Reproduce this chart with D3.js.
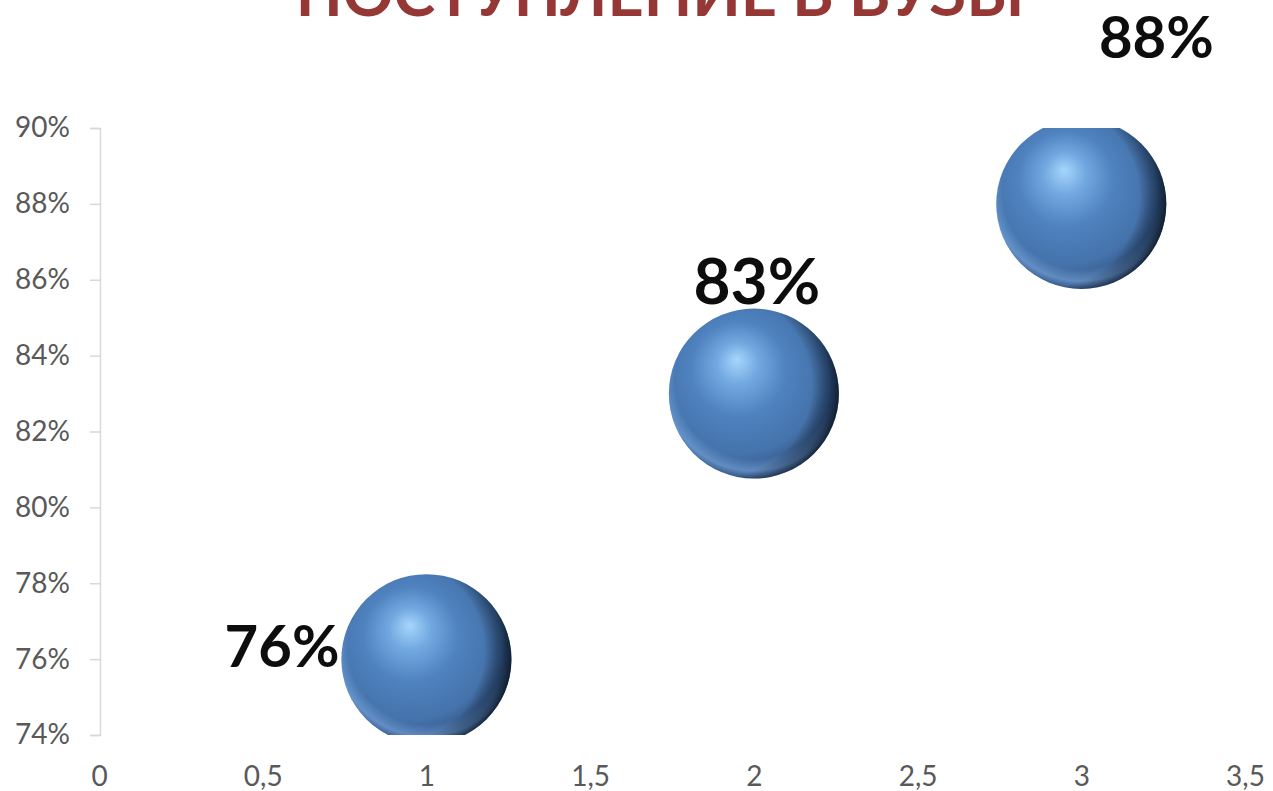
<!DOCTYPE html>
<html>
<head>
<meta charset="utf-8">
<script src="https://cdn.jsdelivr.net/npm/d3@7"></script>
<style>
  body { margin: 0; background: #fff; overflow: hidden; }
  svg { display: block; }
</style>
</head>
<body>
<svg></svg>
<script>
// data
const xValues = [1, 2, 3]
const yValues = [0.76, 0.83, 0.88]
const bubbleSizes = [1, 1, 1]
const pointLabels = ["76%", "83%", "88%"]
const xTicks = [0, 0.5, 1, 1.5, 2, 2.5, 3, 3.5]
const yTicks = [0.74, 0.76, 0.78, 0.80, 0.82, 0.84, 0.86, 0.88, 0.90]
const title = "ПОСТУПЛЕНИЕ В ВУЗЫ"

// label placement per point (style, not data)
const labelPlace = [
    {dx: -87, dy: 8, anchor: "end", size: 58},
    {dx: 3, dy: -90, anchor: "middle", size: 64},
    {dx: 75, dy: -146, anchor: "middle", size: 58}
]

const width = 1273
const height = 791

const svg = d3.select("svg")
    .attr("width", width)
    .attr("height", height)

const scaleX = d3.scaleLinear()
    .domain([0, 3.5])
    .range([99, 1245])

const scaleY = d3.scaleLinear()
    .domain([0.74, 0.90])
    .range([735, 128])

const scaleR = d3.scaleSqrt()
    .domain([0, d3.max(bubbleSizes)])
    .range([0, 85])

const defs = svg.append("defs")

defs.append("clipPath")
    .attr("id", "plotClip")
    .append("rect")
    .attr("x", scaleX(0))
    .attr("y", scaleY(0.90))
    .attr("width", scaleX(3.5) - scaleX(0))
    .attr("height", scaleY(0.74) - scaleY(0.90))

// sphere shading
const addStops = function(grad, stops){
    grad.selectAll("stop")
        .data(stops)
        .enter()
        .append("stop")
        .attr("offset", d => d[0])
        .attr("stop-color", d => d[1])
        .attr("stop-opacity", d => d[2])
}

addStops(defs.append("radialGradient")
    .attr("id", "ball")
    .attr("cx", 0.42).attr("cy", 0.42).attr("r", 0.62)
    .attr("fx", 0.4).attr("fy", 0.3), [
        [0, "#a6d6fc", 1],
        [0.2, "#72a8e0", 1],
        [0.45, "#4f82bf", 1],
        [0.75, "#4573ab", 1],
        [0.92, "#36598a", 1],
        [1, "#2a4669", 1]
    ])

addStops(defs.append("radialGradient")
    .attr("id", "rim")
    .attr("cx", 0.5).attr("cy", 0.42).attr("r", 0.58), [
        [0, "#86b6ee", 0],
        [0.8, "#86b6ee", 0],
        [0.92, "#86b6ee", 0.5],
        [1, "#86b6ee", 0]
    ])

addStops(defs.append("radialGradient")
    .attr("id", "shade")
    .attr("cx", 0.3).attr("cy", 0.45).attr("r", 0.75), [
        [0, "#000", 0],
        [0.72, "#000", 0],
        [0.86, "#061222", 0.45],
        [0.96, "#020810", 0.92],
        [1, "#020810", 0.95]
    ])

// title, cut by the top edge as in the source
svg.append("text")
    .attr("x", 660)
    .attr("y", 16)
    .attr("text-anchor", "middle")
    .attr("font-family", "Lato, sans-serif")
    .attr("font-weight", "bold")
    .attr("font-size", 63)
    .attr("fill", "#953735")
    .text(title)

// y axis
const yAxis = d3.axisLeft(scaleY)
    .tickValues(yTicks)
    .tickSize(10)
    .tickPadding(20)
    .tickFormat(d => Math.round(d * 100) + "%")

const gy = svg.append("g")
    .attr("transform", `translate(${scaleX(0) + 1},0)`)
    .call(yAxis)
gy.selectAll("path, line").attr("stroke", "#d9d9d9").attr("stroke-width", 1.5)
gy.selectAll("text")
    .attr("fill", "#595959")
    .attr("font-family", "Lato, sans-serif")
    .attr("font-size", 28)

// x axis labels only
const xAxis = d3.axisBottom(scaleX)
    .tickValues(xTicks)
    .tickSize(0)
    .tickPadding(0)
    .tickFormat(d => String(d).replace(".", ","))

const gx = svg.append("g")
    .attr("transform", "translate(0,766)")
    .call(xAxis)
gx.select(".domain").remove()
gx.selectAll("text")
    .attr("fill", "#595959")
    .attr("font-family", "Lato, sans-serif")
    .attr("font-size", 28)

// bubbles
const points = xValues.map((x, i) => ({x: x, y: yValues[i], s: bubbleSizes[i], label: pointLabels[i], place: labelPlace[i]}))

const bubbles = svg.append("g")
    .attr("clip-path", "url(#plotClip)")
    .selectAll("g.bubble")
    .data(points)
    .enter()
    .append("g")
    .attr("class", "bubble")
    .attr("transform", d => `translate(${scaleX(d.x)},${scaleY(d.y)})`)

bubbles.append("circle")
    .attr("r", d => scaleR(d.s))
    .attr("fill", "url(#ball)")

bubbles.append("circle")
    .attr("r", d => scaleR(d.s))
    .attr("fill", "url(#rim)")

bubbles.append("circle")
    .attr("r", d => scaleR(d.s))
    .attr("fill", "url(#shade)")

// data labels
svg.append("g")
    .selectAll("text")
    .data(points)
    .enter()
    .append("text")
    .attr("x", d => scaleX(d.x) + d.place.dx)
    .attr("y", d => scaleY(d.y) + d.place.dy)
    .attr("text-anchor", d => d.place.anchor)
    .attr("font-family", "Lato, sans-serif")
    .attr("font-weight", "bold")
    .attr("font-size", d => d.place.size)
    .attr("fill", "#0d0d0d")
    .text(d => d.label)
</script>
</body>
</html>
